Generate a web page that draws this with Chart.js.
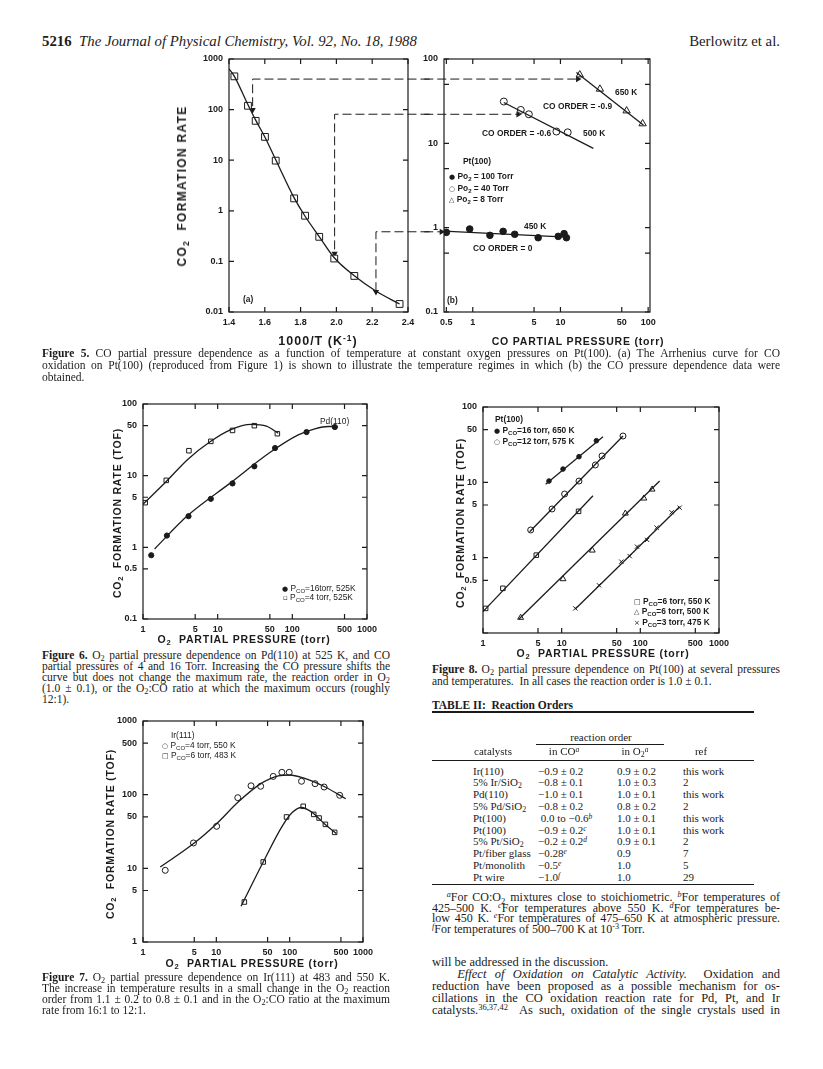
<!DOCTYPE html>
<html><head><meta charset="utf-8">
<script src="https://cdn.jsdelivr.net/npm/chart.js@4.4.1/dist/chart.umd.min.js"></script>
<style>
html,body{margin:0;padding:0;background:#fff}
body{width:823px;height:1069px;position:relative;overflow:hidden;color:#1b1b1b;font-family:"Liberation Serif","Times New Roman",serif}
canvas{position:absolute}
.a{position:absolute;white-space:nowrap}
.ln{position:absolute;white-space:nowrap;font-size:11.5px;line-height:12px;height:12px}
.fn{font-size:12px}
.bd{font-size:12.5px;line-height:13px;height:13px}
.j{text-align:justify;text-align-last:justify}
.lg{position:absolute;white-space:nowrap;font-family:"Liberation Sans",Arial,sans-serif;font-weight:bold;font-size:8.4px;line-height:10px;height:10px}
.sy{font-family:"DejaVu Sans",sans-serif;font-weight:normal;font-size:7px}
.ttl{position:absolute;white-space:nowrap;font-family:"Liberation Sans",Arial,sans-serif;font-weight:bold;transform:translate(-50%,-50%);letter-spacing:0.8px}
.rot{transform:translate(-50%,-50%) rotate(-90deg)}
sub{font-size:72%;vertical-align:-0.3em;line-height:0}
sup{font-size:68%;vertical-align:0.45em;line-height:0}
.rule{position:absolute;background:#1b1b1b;height:1px}
.tc{position:absolute;white-space:nowrap;font-size:11px;line-height:13px}
</style></head><body>

<div class="a" style="left:42px;top:33px;font-size:14.8px;line-height:16px"><b>5216</b>&nbsp;&nbsp;<i>The Journal of Physical Chemistry, Vol. 92, No. 18, 1988</i></div>
<div class="a" style="right:43px;top:33px;font-size:14.8px;line-height:16px">Berlowitz et al.</div>

<canvas id="c5a"></canvas>
<canvas id="c5b"></canvas>
<canvas id="c6"></canvas>
<canvas id="c7"></canvas>
<canvas id="c8"></canvas>

<!-- Figure 5 texts -->
<div class="ttl rot" style="left:182px;top:186px;font-size:12px;letter-spacing:1.3px">CO<sub>2</sub>&nbsp; FORMATION RATE</div>
<div class="ttl" style="left:318px;top:341px;font-size:12.5px;letter-spacing:1px">1000/T (K<sup>-1</sup>)</div>
<div class="ttl" style="left:578px;top:341px;font-size:10.5px">CO PARTIAL PRESSURE (torr)</div>
<div class="lg" style="left:243px;top:294px">(a)</div>
<div class="lg" style="left:447px;top:295px">(b)</div>
<div class="lg" style="left:615px;top:87px">650 K</div>
<div class="lg" style="left:543px;top:101px">CO ORDER = -0.9</div>
<div class="lg" style="left:482px;top:128px">CO ORDER = -0.6</div>
<div class="lg" style="left:583px;top:128px">500 K</div>
<div class="lg" style="left:463px;top:156px">Pt(100)</div>
<div class="lg" style="left:449px;top:171px"><span class="sy">●</span> Po<sub>2</sub> = 100 Torr</div>
<div class="lg" style="left:449px;top:183px"><span class="sy">○</span> Po<sub>2</sub> = 40 Torr</div>
<div class="lg" style="left:449px;top:194px"><span class="sy">△</span> Po<sub>2</sub> = 8 Torr</div>
<div class="lg" style="left:524px;top:221px">450 K</div>
<div class="lg" style="left:473px;top:243px">CO ORDER = 0</div>

<div class="ln j" style="left:42px;top:347px;width:738px"><b>Figure 5.</b> CO partial pressure dependence as a function of temperature at constant oxygen pressures on Pt(100). (a) The Arrhenius curve for CO</div>
<div class="ln j" style="left:42px;top:359px;width:738px">oxidation on Pt(100) (reproduced from Figure 1) is shown to illustrate the temperature regimes in which (b) the CO pressure dependence data were</div>
<div class="ln" style="left:42px;top:371px">obtained.</div>

<!-- Figure 6 texts -->
<div class="ttl rot" style="left:117px;top:513px;font-size:10.5px">CO<sub>2</sub>&nbsp; FORMATION RATE (TOF)</div>
<div class="ttl" style="left:244px;top:639px;font-size:10.5px">O<sub>2</sub>&nbsp; PARTIAL PRESSURE (torr)</div>
<div class="lg" style="left:320px;top:416px;font-weight:normal">Pd(110)</div>
<div class="lg" style="left:282px;top:583px;font-weight:normal"><span class="sy">●</span> P<sub>CO</sub>=16torr, 525K</div>
<div class="lg" style="left:283px;top:592px;font-weight:normal"><span class="sy">▫</span> P<sub>CO</sub>=4 torr, 525K</div>

<div class="ln j" style="left:42px;top:649px;width:348px"><b>Figure 6.</b> O<sub>2</sub> partial pressure dependence on Pd(110) at 525 K, and CO</div>
<div class="ln j" style="left:42px;top:660px;width:348px">partial pressures of 4 and 16 Torr. Increasing the CO pressure shifts the</div>
<div class="ln j" style="left:42px;top:671px;width:348px">curve but does not change the maximum rate, the reaction order in O<sub>2</sub></div>
<div class="ln j" style="left:42px;top:682px;width:348px">(1.0 ± 0.1), or the O<sub>2</sub>:CO ratio at which the maximum occurs (roughly</div>
<div class="ln" style="left:42px;top:693px">12:1).</div>

<!-- Figure 7 texts -->
<div class="ttl rot" style="left:110px;top:834px;font-size:10.5px">CO<sub>2</sub>&nbsp; FORMATION RATE (TOF)</div>
<div class="ttl" style="left:252px;top:963px;font-size:10.5px">O<sub>2</sub>&nbsp; PARTIAL PRESSURE (torr)</div>
<div class="lg" style="left:171px;top:730px;font-weight:normal">Ir(111)</div>
<div class="lg" style="left:162px;top:740px;font-weight:normal"><span class="sy">○</span> P<sub>CO</sub>=4 torr, 550 K</div>
<div class="lg" style="left:162px;top:750px;font-weight:normal"><span class="sy">□</span> P<sub>CO</sub>=6 torr, 483 K</div>

<div class="ln j" style="left:42px;top:971px;width:348px"><b>Figure 7.</b> O<sub>2</sub> partial pressure dependence on Ir(111) at 483 and 550 K.</div>
<div class="ln j" style="left:42px;top:982px;width:348px">The increase in temperature results in a small change in the O<sub>2</sub> reaction</div>
<div class="ln j" style="left:42px;top:993px;width:348px">order from 1.1 ± 0.2 to 0.8 ± 0.1 and in the O<sub>2</sub>:CO ratio at the maximum</div>
<div class="ln" style="left:42px;top:1004px">rate from 16:1 to 12:1.</div>

<!-- Figure 8 texts -->
<div class="ttl rot" style="left:460px;top:523px;font-size:10.5px">CO<sub>2</sub>&nbsp; FORMATION RATE (TOF)</div>
<div class="ttl" style="left:603px;top:653px;font-size:10.5px">O<sub>2</sub>&nbsp; PARTIAL PRESSURE (torr)</div>
<div class="lg" style="left:495px;top:414px">Pt(100)</div>
<div class="lg" style="left:494px;top:425px"><span class="sy">●</span> P<sub>CO</sub>=16 torr, 650 K</div>
<div class="lg" style="left:494px;top:436px"><span class="sy">○</span> P<sub>CO</sub>=12 torr, 575 K</div>
<div class="lg" style="left:634px;top:596px"><span class="sy">□</span> P<sub>CO</sub>=6 torr, 550 K</div>
<div class="lg" style="left:634px;top:606px"><span class="sy">△</span> P<sub>CO</sub>=6 torr, 500 K</div>
<div class="lg" style="left:634px;top:617px"><span class="sy">×</span> P<sub>CO</sub>=3 torr, 475 K</div>

<div class="ln j" style="left:432px;top:663px;width:348px"><b>Figure 8.</b> O<sub>2</sub> partial pressure dependence on Pt(100) at several pressures</div>
<div class="ln" style="left:432px;top:675px">and temperatures.&nbsp; In all cases the reaction order is 1.0 ± 0.1.</div>

<!-- Table -->
<div class="a" style="left:432px;top:698px;font-size:11.5px;line-height:14px"><b>TABLE II:&nbsp; Reaction Orders</b></div>
<div id="tbl"></div>

<div class="ln fn j" style="left:432px;top:891px;width:348px">&nbsp;&nbsp;&nbsp;<sup><i>a</i></sup>For CO:O<sub>2</sub> mixtures close to stoichiometric. <sup><i>b</i></sup>For temperatures of</div>
<div class="ln fn j" style="left:432px;top:901.7px;width:348px">425–500 K. <sup><i>c</i></sup>For temperatures above 550 K. <sup><i>d</i></sup>For temperatures be-</div>
<div class="ln fn j" style="left:432px;top:912.3px;width:348px">low 450 K. <sup><i>e</i></sup>For temperatures of 475–650 K at atmospheric pressure.</div>
<div class="ln fn" style="left:432px;top:923px"><sup><i>f</i></sup>For temperatures of 500–700 K at 10<sup>-3</sup> Torr.</div>

<div class="ln bd" style="left:432px;top:955.5px">will be addressed in the discussion.</div>
<div class="ln bd j" style="left:432px;top:967.5px;width:348px">&nbsp;&nbsp;&nbsp;<i>Effect of Oxidation on Catalytic Activity.</i>&nbsp; Oxidation and</div>
<div class="ln bd j" style="left:432px;top:979.5px;width:348px">reduction have been proposed as a possible mechanism for os-</div>
<div class="ln bd j" style="left:432px;top:991.5px;width:348px">cillations in the CO oxidation reaction rate for Pd, Pt, and Ir</div>
<div class="ln bd j" style="left:432px;top:1003.5px;width:348px">catalysts.<sup>36,37,42</sup>&nbsp; As such, oxidation of the single crystals used in</div>

<script>
// ================= DATA =================
// Figure 5(a): Arrhenius curve, Pt(100)
const fig5aInvT = [1.43, 1.506, 1.549, 1.601, 1.661, 1.764, 1.825, 1.904, 1.988, 2.10, 2.353];
const fig5aRate = [454, 119, 60, 28.9, 9.8, 1.76, 0.80, 0.306, 0.114, 0.0516, 0.0144];
const fig5aCurveInvT = [1.40, 1.43, 1.506, 1.549, 1.601, 1.661, 1.764, 1.825, 1.904, 1.988, 2.10, 2.22, 2.353];
const fig5aCurveRate = [640, 454, 125, 62, 28.5, 10.2, 1.8, 0.78, 0.31, 0.118, 0.052, 0.026, 0.0144];
const fig5aXTicks = [1.4, 1.6, 1.8, 2.0, 2.2, 2.4];
const fig5aXLabels = ['1.4', '1.6', '1.8', '2.0', '2.2', '2.4'];
const fig5aYTicks = [0.01, 0.1, 1, 10, 100, 1000];
const fig5aYLabels = ['0.01', '0.1', '1', '10', '100', '1000'];
// dashed guide arrows: temperature regimes
const arrowInvT = [1.532, 1.99, 2.221];
const arrowTopRate = [401, 81, 0.385];
const arrowTipRate = [99, 0.143, 0.025];
const arrowRightInvT = 2.52;
// Figure 5(b): CO pressure dependence
const fig5bCO450 = [0.5, 0.923, 1.57, 2.22, 3.01, 5.57, 9.43, 11.0, 11.7];
const fig5bRate450 = [0.879, 0.964, 0.811, 0.904, 0.834, 0.760, 0.788, 0.849, 0.760];
const fig5bFit450CO = [0.47, 11.7];
const fig5bFit450Rate = [0.912, 0.774];
const fig5bCO500 = [2.26, 3.53, 4.36, 9.0, 12.1];
const fig5bRate500 = [31.3, 24.9, 22.1, 13.8, 13.5];
const fig5bFit500CO = [2.26, 23.7];
const fig5bFit500Rate = [30.5, 8.7];
const fig5bCO650 = [16.6, 28.2, 56.8, 86.5];
const fig5bRate650 = [65, 44, 24.3, 17.1];
const fig5bFit650CO = [15.2, 88.2];
const fig5bFit650Rate = [69.3, 16.5];
const arrowLevelB = [57.8, 22.1, 0.893];
const arrowTipCO = [15.8, 3.3, 0.44];
const arrowStartCO = 0.28;
const fig5bXTicks = [0.5, 1, 5, 10, 50, 100];
const fig5bXLabels = ['0.5', '1', '5', '10', '50', '100'];
const fig5bYTicks = [0.1, 0.5, 1, 5, 10, 50, 100];
const fig5bYLabels = ['0.1', '', '1', '', '10', '', '100'];
// Figure 6: Pd(110)
const fig6O2_16 = [1.29, 2.09, 4.07, 8.1, 15.8, 31, 58.7, 155, 371];
const fig6Rate_16 = [0.776, 1.46, 2.72, 4.75, 7.79, 13.5, 24.3, 40.6, 47.7];
const fig6CurveO2_16 = [1.43, 4, 15, 50, 120, 200, 300, 400];
const fig6CurveRate_16 = [0.95, 2.8, 8.0, 21, 37, 45, 48.5, 48.5];
const fig6O2_4 = [1.07, 2.05, 4.12, 8.1, 15.8, 31, 63];
const fig6Rate_4 = [4.2, 8.6, 22.3, 30.1, 42.8, 49.8, 38.5];
const fig6CurveO2_4 = [1.0, 2.05, 4, 8, 15, 28, 45, 65];
const fig6CurveRate_4 = [4.0, 8.3, 17, 30, 44, 52, 49, 39];
// Figure 7: Ir(111)
const fig7O2_550 = [2.01, 4.88, 10.1, 19.6, 29.7, 40.2, 59.7, 78.3, 98.6, 145, 222, 295, 481];
const fig7Rate_550 = [9.4, 22.1, 37.2, 91, 132, 130, 177, 201, 201, 152, 141, 127, 98];
const fig7CurveO2_550 = [1.72, 5, 10, 20, 40, 70, 100, 150, 300, 581];
const fig7CurveRate_550 = [10.4, 22, 40, 80, 140, 180, 185, 170, 128, 88];
const fig7O2_483 = [24.1, 43.6, 90.6, 153, 213, 252, 307, 411];
const fig7Rate_483 = [3.49, 12.2, 49.8, 69.5, 54, 48.2, 39.5, 30.8];
const fig7CurveO2_483 = [21.7, 43.6, 80, 110, 145, 200, 300, 434];
const fig7CurveRate_483 = [3.05, 12.2, 38, 58, 67, 58, 40, 29.6];
// Figure 8: Pt(100)
const fig8O2_16 = [6.9, 10.4, 16.6, 27.6];
const fig8Rate_16 = [10.4, 15.0, 21.9, 35.7];
const fig8Fit16O2 = [6.26, 33.5];
const fig8Fit16Rate = [9.4, 40.4];
const fig8O2_12 = [4.04, 7.54, 10.9, 16.6, 26.8, 32.6, 60.2];
const fig8Rate_12 = [2.33, 4.43, 7.0, 10.4, 17.0, 22.4, 41.2];
const fig8Fit12O2 = [3.92, 60.2];
const fig8Fit12Rate = [2.21, 41.2];
const fig8O2_550 = [1.08, 1.79, 4.76, 16.4];
const fig8Rate_550 = [0.212, 0.392, 1.08, 4.12];
const fig8Fit550O2 = [1.0, 25];
const fig8Fit550Rate = [0.192, 6.65];
const fig8O2_500 = [3.01, 10.4, 24.5, 64.5, 111, 141];
const fig8Rate_500 = [0.160, 0.521, 1.25, 3.87, 6.13, 8.07];
const fig8Fit500O2 = [2.87, 176];
const fig8Fit500Rate = [0.153, 10.4];
const fig8O2_475 = [14.9, 29.8, 57.3, 73.1, 90.7, 122, 161, 250, 316];
const fig8Rate_475 = [0.212, 0.430, 0.885, 1.05, 1.40, 1.72, 2.50, 4.0, 4.61];
const fig8Fit475O2 = [14.9, 316];
const fig8Fit475Rate = [0.208, 4.75];
// shared O2 axes
const o2XTicks = [1, 5, 10, 50, 100, 500, 1000];
const o2XLabels = ['1', '5', '10', '50', '100', '500', '1000'];
const fig6YTicks = [0.1, 0.5, 1, 5, 10, 50, 100];
const fig6YLabels = ['0.1', '0.5', '1', '5', '10', '50', '100'];
const fig7YTicks = [1, 5, 10, 50, 100, 500, 1000];
const fig7YLabels = ['1', '5', '10', '50', '100', '500', '1000'];
const fig8YTicks = [0.1, 0.5, 1, 5, 10, 50, 100];
const fig8YLabels = ['', '0.5', '1', '5', '10', '50', '100'];
// Table II
const tblCatalyst = ['Ir(110)', '5% Ir/SiO<sub>2</sub>', 'Pd(110)', '5% Pd/SiO<sub>2</sub>', 'Pt(100)', 'Pt(100)', '5% Pt/SiO<sub>2</sub>', 'Pt/fiber glass', 'Pt/monolith', 'Pt wire'];
const tblCO = ['−0.9 ± 0.2', '−0.8 ± 0.1', '−1.0 ± 0.1', '−0.8 ± 0.2', '&nbsp;0.0 to −0.6<sup><i>b</i></sup>', '−0.9 ± 0.2<sup><i>c</i></sup>', '−0.2 ± 0.2<sup><i>d</i></sup>', '−0.28<sup><i>e</i></sup>', '−0.5<sup><i>e</i></sup>', '−1.0<sup><i>f</i></sup>'];
const tblO2 = ['0.9 ± 0.2', '1.0 ± 0.3', '1.0 ± 0.1', '0.8 ± 0.2', '1.0 ± 0.1', '1.0 ± 0.1', '0.9 ± 0.1', '0.9', '1.0', '1.0'];
const tblRef = ['this work', '2', 'this work', '2', 'this work', 'this work', '2', '7', '5', '29'];

// ================= RENDER =================
const SANS = '"Liberation Sans", Arial, sans-serif';
const INK = '#1b1b1b';
function pts(xs, ys) { return xs.map((x, i) => ({x: x, y: ys[i]})); }
function markers(xs, ys, style, fill, r) {
  return {data: pts(xs, ys), showLine: false, pointStyle: style, pointRadius: r, pointHoverRadius: r,
    pointBackgroundColor: fill, pointBorderColor: INK, pointBorderWidth: 1};
}
function curve(xs, ys) {
  return {data: pts(xs, ys), showLine: true, pointRadius: 0, borderColor: INK, borderWidth: 1.3,
    cubicInterpolationMode: 'monotone', fill: false};
}
function straight(xs, ys) {
  return {data: pts(xs, ys), showLine: true, pointRadius: 0, borderColor: INK, borderWidth: 1.3, tension: 0, fill: false};
}
function dashed(xs, ys, rot) {
  const n = xs.length;
  return {data: pts(xs, ys), showLine: true, borderColor: INK, borderWidth: 1, borderDash: [9, 4], tension: 0,
    clip: false, fill: false, pointStyle: 'triangle', pointRotation: rot,
    pointRadius: ctx => (ctx.dataIndex === n - 1 ? 3.6 : 0), pointBackgroundColor: INK, pointBorderColor: INK, pointBorderWidth: 0};
}
function axis(type, min, max, ticks, labels, isX) {
  return {
    type: type, min: min, max: max, position: isX ? 'bottom' : 'left',
    grid: {display: false, drawTicks: false}, border: {display: false},
    afterBuildTicks: s => { s.ticks = ticks.map(v => ({value: v})); },
    ticks: {autoSkip: false, maxRotation: 0, minRotation: 0, padding: isX ? 5 : 6, color: INK,
      font: {family: SANS, weight: 'bold', size: 9}, callback: (v, i) => labels[i]}
  };
}
const frameTicks = {
  id: 'frameTicks',
  afterDraw(chart) {
    const ctx = chart.ctx, a = chart.chartArea, x = chart.scales.x, y = chart.scales.y;
    ctx.save();
    ctx.strokeStyle = INK; ctx.lineWidth = 1.2;
    ctx.strokeRect(a.left, a.top, a.right - a.left, a.bottom - a.top);
    ctx.beginPath();
    x.ticks.forEach(t => { const p = x.getPixelForValue(t.value);
      ctx.moveTo(p, a.bottom); ctx.lineTo(p, a.bottom - 5); ctx.moveTo(p, a.top); ctx.lineTo(p, a.top + 5); });
    y.ticks.forEach(t => { const p = y.getPixelForValue(t.value);
      ctx.moveTo(a.left, p); ctx.lineTo(a.left + 5, p); ctx.moveTo(a.right, p); ctx.lineTo(a.right - 5, p); });
    ctx.stroke(); ctx.restore();
  }
};
function plot(id, box, xAxis, yAxis, datasets) {
  const padL = 46, padT = 12, padR = 26, padB = 22;
  const cv = document.getElementById(id);
  const W = box.R - box.L + padL + padR, H = box.B - box.T + padT + padB;
  cv.width = W; cv.height = H;
  cv.style.left = (box.L - padL) + 'px'; cv.style.top = (box.T - padT) + 'px';
  cv.style.width = W + 'px'; cv.style.height = H + 'px';
  xAxis.afterFit = s => { s.height = padB; };
  yAxis.afterFit = s => { s.width = padL; };
  return new Chart(cv, {
    type: 'scatter',
    data: {datasets: datasets},
    options: {
      responsive: false, animation: false, devicePixelRatio: 1,
      layout: {padding: {left: 0, top: padT, right: padR, bottom: 0}},
      plugins: {legend: {display: false}, tooltip: {enabled: false}},
      scales: {x: xAxis, y: yAxis}
    },
    plugins: [frameTicks]
  });
}

// Figure 5(a)
const ds5a = [curve(fig5aCurveInvT, fig5aCurveRate), markers(fig5aInvT, fig5aRate, 'rect', '#fff', 4.8)];
arrowInvT.forEach((t, i) => ds5a.push(dashed([arrowRightInvT, t, t], [arrowTopRate[i], arrowTopRate[i], arrowTipRate[i]], 180)));
plot('c5a', {L: 229, T: 59, R: 408, B: 312},
  axis('linear', 1.4, 2.4, fig5aXTicks, fig5aXLabels, true),
  axis('logarithmic', 0.01, 1000, fig5aYTicks, fig5aYLabels, false), ds5a);

// Figure 5(b)
const ds5b = [
  straight(fig5bFit450CO, fig5bFit450Rate), straight(fig5bFit500CO, fig5bFit500Rate), straight(fig5bFit650CO, fig5bFit650Rate),
  markers(fig5bCO450, fig5bRate450, 'circle', INK, 3.3),
  markers(fig5bCO500, fig5bRate500, 'circle', '#fff', 3.5),
  markers(fig5bCO650, fig5bRate650, 'triangle', '#fff', 4.2)
];
arrowLevelB.forEach((lv, i) => ds5b.push(dashed([arrowStartCO, arrowTipCO[i]], [lv, lv], 90)));
plot('c5b', {L: 444, T: 59, R: 650, B: 312},
  axis('logarithmic', 0.47, 105, fig5bXTicks, fig5bXLabels, true),
  axis('logarithmic', 0.1, 100, fig5bYTicks, fig5bYLabels, false), ds5b);

// Figure 6
plot('c6', {L: 143, T: 404, R: 367, B: 619},
  axis('logarithmic', 1, 1000, o2XTicks, o2XLabels, true),
  axis('logarithmic', 0.1, 100, fig6YTicks, fig6YLabels, false), [
  curve(fig6CurveO2_16, fig6CurveRate_16), curve(fig6CurveO2_4, fig6CurveRate_4),
  markers(fig6O2_16, fig6Rate_16, 'circle', INK, 2.6),
  markers(fig6O2_4, fig6Rate_4, 'rect', '#fff', 3.2)
]);

// Figure 7
plot('c7', {L: 143, T: 721, R: 363, B: 942},
  axis('logarithmic', 1, 1000, o2XTicks, o2XLabels, true),
  axis('logarithmic', 1, 1000, fig7YTicks, fig7YLabels, false), [
  curve(fig7CurveO2_550, fig7CurveRate_550), curve(fig7CurveO2_483, fig7CurveRate_483),
  markers(fig7O2_550, fig7Rate_550, 'circle', '#fff', 3),
  markers(fig7O2_483, fig7Rate_483, 'rect', '#fff', 3.2)
]);

// Figure 8
plot('c8', {L: 483, T: 407, R: 719, B: 633},
  axis('logarithmic', 1, 1000, o2XTicks, o2XLabels, true),
  axis('logarithmic', 0.1, 100, fig8YTicks, fig8YLabels, false), [
  straight(fig8Fit16O2, fig8Fit16Rate), straight(fig8Fit12O2, fig8Fit12Rate), straight(fig8Fit550O2, fig8Fit550Rate),
  straight(fig8Fit500O2, fig8Fit500Rate), straight(fig8Fit475O2, fig8Fit475Rate),
  markers(fig8O2_16, fig8Rate_16, 'circle', INK, 2.3),
  markers(fig8O2_12, fig8Rate_12, 'circle', '#fff', 3),
  markers(fig8O2_550, fig8Rate_550, 'rect', '#fff', 3.2),
  markers(fig8O2_500, fig8Rate_500, 'triangle', '#fff', 3.4),
  markers(fig8O2_475, fig8Rate_475, 'crossRot', '#fff', 3)
]);

// Table II
(function () {
  const host = document.getElementById('tbl');
  const colX = [473, 538, 617, 683];
  let h = '';
  h += '<div class="rule" style="left:432px;top:711px;width:322px;height:1.5px"></div>';
  h += '<div class="tc" style="left:601px;top:731px;transform:translateX(-50%)">reaction order</div>';
  h += '<div class="rule" style="left:536px;top:744px;width:128px"></div>';
  h += '<div class="tc" style="left:493px;top:745px;transform:translateX(-50%)">catalysts</div>';
  h += '<div class="tc" style="left:564px;top:745px;transform:translateX(-50%)">in CO<sup><i>a</i></sup></div>';
  h += '<div class="tc" style="left:635px;top:745px;transform:translateX(-50%)">in O<sub>2</sub><sup><i>a</i></sup></div>';
  h += '<div class="tc" style="left:701px;top:745px;transform:translateX(-50%)">ref</div>';
  h += '<div class="rule" style="left:432px;top:760px;width:322px"></div>';
  tblCatalyst.forEach((c, i) => {
    const top = 764.5 + i * 11.8;
    [c, tblCO[i], tblO2[i], tblRef[i]].forEach((txt, k) => {
      h += '<div class="tc" style="left:' + colX[k] + 'px;top:' + top + 'px">' + txt + '</div>';
    });
  });
  h += '<div class="rule" style="left:432px;top:884px;width:322px"></div>';
  host.innerHTML = h;
})();

// fit justified lines to their column width
document.querySelectorAll('.j').forEach(el => {
  const W = parseFloat(el.style.width);
  el.style.width = 'auto'; el.style.textAlignLast = 'left';
  const nat = el.getBoundingClientRect().width;
  el.style.width = W + 'px'; el.style.textAlignLast = '';
  if (nat > W) {
    el.style.width = nat + 'px'; el.style.textAlignLast = 'left';
    el.style.transformOrigin = '0 50%'; el.style.transform = 'scaleX(' + (W / nat) + ')';
  }
});
</script>
</body></html>
